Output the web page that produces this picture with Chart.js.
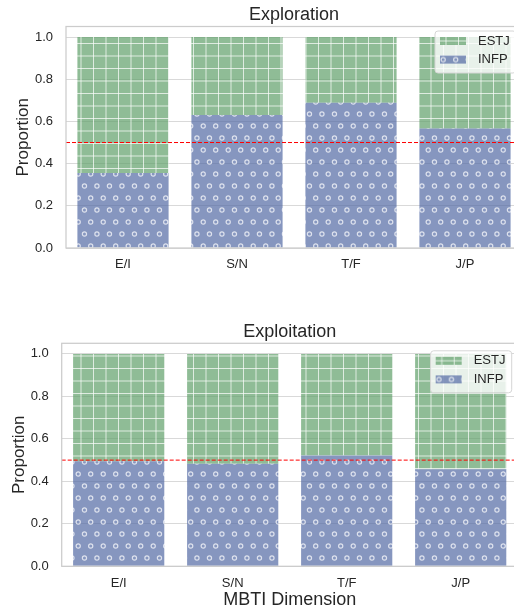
<!DOCTYPE html>
<html>
<head>
<meta charset="utf-8">
<script src="https://cdn.jsdelivr.net/npm/chart.js@4.4.0/dist/chart.umd.min.js"></script>
<style>
  html, body { margin: 0; padding: 0; width: 514px; height: 609px; overflow: hidden; background: #fff; }
  canvas { position: absolute; left: 0; }
  #top { top: 0; }
  #bottom { top: 300px; }
</style>
</head>
<body>
<canvas id="top" width="600" height="300"></canvas>
<canvas id="bottom" width="600" height="320"></canvas>
<script>
const dimensions = ["E/I", "S/N", "T/F", "J/P"];
const yTicks = [0, 0.2, 0.4, 0.6, 0.8, 1.0];

const explorationINFP = [0.355, 0.631, 0.689, 0.566];
const explorationESTJ = [0.645, 0.369, 0.311, 0.434];

const exploitationINFP = [0.495, 0.483, 0.522, 0.457];
const exploitationESTJ = [0.505, 0.517, 0.478, 0.543];

const threshold = 0.5;

Chart.defaults.font.family = "'Liberation Sans', Arial, sans-serif";
Chart.defaults.font.size = 13;
Chart.defaults.color = "#262626";

// hatch tiles: '+' grid for ESTJ, small rings for INFP
function gridPattern(fill) {
  const c = document.createElement("canvas");
  c.width = 25; c.height = 25;
  const g = c.getContext("2d");
  g.fillStyle = fill;
  g.fillRect(0, 0, 25, 25);
  g.strokeStyle = "rgba(255,255,255,0.7)";
  g.lineWidth = 1;
  g.beginPath();
  [6, 18.5].forEach((p) => {
    g.moveTo(p, 0); g.lineTo(p, 25);
    g.moveTo(0, p); g.lineTo(25, p);
  });
  g.stroke();
  return g.createPattern(c, "repeat");
}

function ringPattern(fill) {
  const c = document.createElement("canvas");
  c.width = 25; c.height = 24;
  const g = c.getContext("2d");
  g.fillStyle = fill;
  g.fillRect(0, 0, 25, 24);
  g.strokeStyle = "rgba(255,255,255,0.72)";
  g.lineWidth = 1.2;
  [[3.2, 6], [15.7, 6], [9.45, 18], [21.95, 18]].forEach(([x, y]) => {
    g.beginPath();
    g.arc(x, y, 2.1, 0, Math.PI * 2);
    g.stroke();
  });
  return g.createPattern(c, "repeat");
}

const infpFill = ringPattern("rgba(82,106,164,0.7)");
const estjFill = gridPattern("rgba(95,159,105,0.7)");

const overlay = {
  id: "overlay",
  afterDatasetsDraw(chart, args, opts) {
    const { ctx, chartArea: a, scales: { y } } = chart;
    const yy = y.getPixelForValue(threshold);
    ctx.save();
    ctx.strokeStyle = "#ff0000";
    ctx.lineWidth = 1;
    ctx.setLineDash([4, 2]);
    ctx.beginPath();
    ctx.moveTo(a.left, yy);
    ctx.lineTo(a.right, yy);
    ctx.stroke();
    ctx.setLineDash([]);
    ctx.strokeStyle = "#cccccc";
    ctx.lineWidth = 1.25;
    ctx.strokeRect(a.left, a.top, a.right - a.left, a.bottom - a.top);
    ctx.restore();
  },
  afterDraw(chart, args, opts) {
    const { ctx, chartArea: a } = chart;
    ctx.save();
    // title
    ctx.fillStyle = "#262626";
    ctx.font = "18px 'Liberation Sans', Arial, sans-serif";
    ctx.textAlign = "center";
    ctx.textBaseline = "middle";
    ctx.fillText(opts.title, (a.left + a.right) / 2, a.top - 11.7);

    // legend, upper right inside the axes
    const bx = a.right - 87, by = a.top + opts.legendDy;
    ctx.fillStyle = "rgba(255,255,255,0.8)";
    ctx.strokeStyle = "#d6d6d6";
    ctx.lineWidth = 1;
    ctx.beginPath();
    ctx.roundRect(bx, by, 81, 42, 3);
    ctx.fill();
    ctx.stroke();

    ctx.font = "13px 'Liberation Sans', Arial, sans-serif";
    ctx.textAlign = "left";
    const items = chart.data.datasets.slice().reverse();
    items.forEach((ds, i) => {
      const cy = by + 10 + i * 18.6;
      // shift the pattern so one row of hatch sits inside the small patch
      ctx.save();
      ctx.translate(bx + 5, cy - 6);
      ctx.fillStyle = ds.backgroundColor;
      ctx.fillRect(0, 2, 26, 8);
      ctx.restore();
      ctx.fillStyle = "#262626";
      ctx.fillText(ds.label, bx + 43, cy);
    });
    ctx.restore();
  },
};

function makeChart(id, title, infp, estj, o) {
  return new Chart(document.getElementById(id), {
    type: "bar",
    data: {
      labels: dimensions,
      datasets: [
        { label: "INFP", data: infp, backgroundColor: infpFill },
        { label: "ESTJ", data: estj, backgroundColor: estjFill },
      ],
    },
    options: {
      responsive: false,
      animation: false,
      layout: { padding: o.padding },
      datasets: { bar: { barPercentage: 0.8, categoryPercentage: 1 } },
      plugins: {
        legend: { display: false },
        tooltip: { enabled: false },
        overlay: { title: title, legendDy: o.legendDy },
      },
      scales: {
        x: {
          stacked: true,
          grid: { display: false, drawTicks: false },
          border: { display: false },
          ticks: { padding: 9 },
          title: {
            display: !!o.xTitle,
            text: o.xTitle || "",
            font: { size: 18 },
            padding: 0,
          },
          afterFit: (s) => { s.height = o.xHeight; },
        },
        y: {
          stacked: true,
          min: 0,
          max: 1.05,
          afterBuildTicks: (s) => { s.ticks = yTicks.map((v) => ({ value: v })); },
          afterFit: (s) => { s.width = o.yWidth; },
          ticks: { padding: 13, callback: (v) => Number(v).toFixed(1) },
          grid: { color: "#d9d9d9", lineWidth: 1, drawTicks: false },
          border: { display: false },
          title: {
            display: true,
            text: "Proportion",
            font: { size: 17 },
            padding: { top: o.yTitlePad, bottom: 0 },
          },
        },
      },
    },
    plugins: [overlay],
  });
}

makeChart("top", "Exploration", explorationINFP, explorationESTJ, {
  padding: { top: 26.5, right: 78, bottom: 22, left: 0 },
  yWidth: 66,
  xHeight: 30,
  yTitlePad: 12.8,
  legendDy: 4.5,
});

makeChart("bottom", "Exploitation", exploitationINFP, exploitationESTJ, {
  padding: { top: 43.3, right: 82.3, bottom: 9.2, left: 0 },
  yWidth: 61.7,
  xHeight: 44.5,
  yTitlePad: 8.8,
  legendDy: 7.5,
  xTitle: "MBTI Dimension",
});
</script>
</body>
</html>
